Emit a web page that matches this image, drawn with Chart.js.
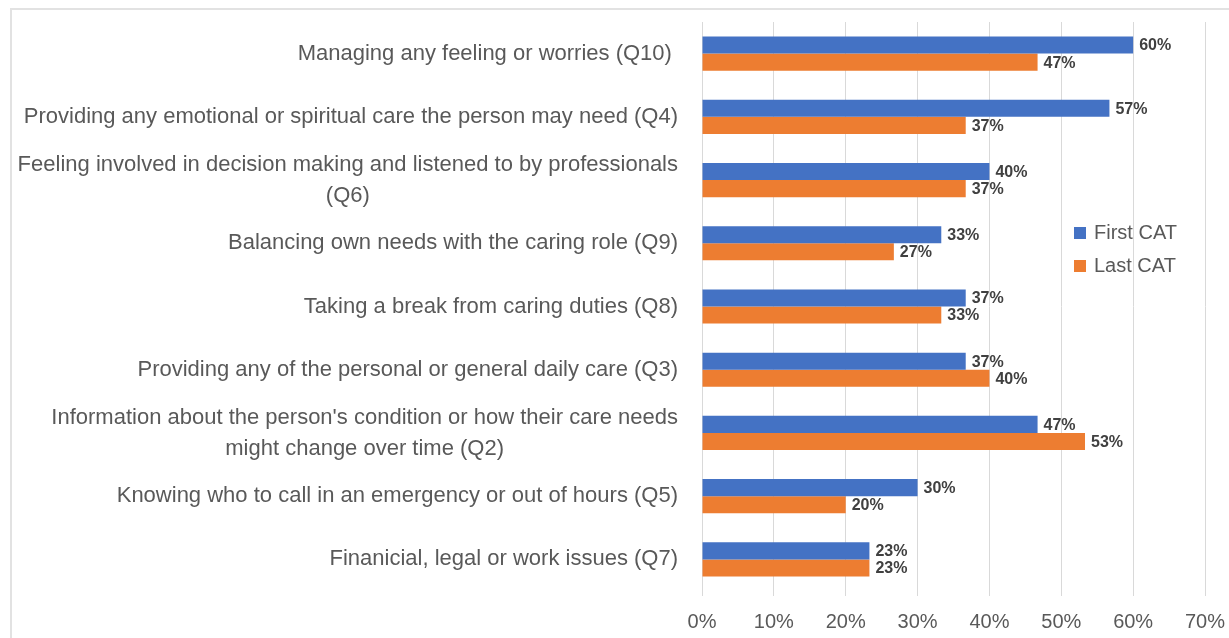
<!DOCTYPE html>
<html>
<head>
<meta charset="utf-8">
<script src="https://cdn.jsdelivr.net/npm/chart.js@4/dist/chart.umd.min.js"></script>
<style>
  html, body { margin: 0; padding: 0; background: #ffffff; }
  #wrap { position: relative; width: 1229px; height: 638px; overflow: hidden; }
  #frame { position: absolute; left: 10px; top: 8px; width: 1300px; height: 700px;
           border-left: 2px solid #e2e2e2; border-top: 2px solid #e2e2e2; }
  canvas { position: absolute; left: 0; top: 0; }
</style>
</head>
<body>
<div id="wrap">
  <div id="frame"></div>
  <canvas id="c" width="1229" height="638"></canvas>
</div>
<script>
const categories = [
  "Managing any feeling or worries (Q10) ",
  "Providing any emotional or spiritual care the person may need (Q4)",
  ["Feeling involved in decision making and listened to by professionals", "(Q6)"],
  "Balancing own needs with the caring role (Q9)",
  "Taking a break from caring duties (Q8)",
  "Providing any of the personal or general daily care (Q3)",
  ["Information about the person's condition or how their care needs", "might change over time (Q2)"],
  "Knowing who to call in an emergency or out of hours (Q5)",
  "Finanicial, legal or work issues (Q7)"
];
const firstCAT = [60, 56.7, 40, 33.3, 36.7, 36.7, 46.7, 30, 23.3];
const lastCAT  = [46.7, 36.7, 36.7, 26.7, 33.3, 40, 53.3, 20, 23.3];
const seriesNames = ["First CAT", "Last CAT"];
const xTicks = [0, 10, 20, 30, 40, 50, 60, 70];

const FONT = "'Liberation Sans', Arial, sans-serif";

const valueLabels = {
  id: 'valueLabels',
  afterDatasetsDraw(chart) {
    const ctx = chart.ctx;
    ctx.save();
    ctx.font = "bold 16px " + FONT;
    ctx.fillStyle = "#404040";
    ctx.textAlign = "left";
    ctx.textBaseline = "middle";
    chart.data.datasets.forEach((ds, i) => {
      const meta = chart.getDatasetMeta(i);
      meta.data.forEach((bar, j) => {
        ctx.fillText(Math.round(ds.data[j]) + "%", bar.x + 6, bar.y + 1);
      });
    });
    ctx.restore();
  }
};

// Category labels: block right-aligned to the axis, lines centred within the block
const categoryLabels = {
  id: 'categoryLabels',
  afterDraw(chart) {
    const ctx = chart.ctx;
    const yScale = chart.scales.y;
    const right = chart.chartArea.left - 24;
    const lineGap = 31;
    ctx.save();
    ctx.font = "22px " + FONT;
    ctx.fillStyle = "#595959";
    ctx.textAlign = "center";
    ctx.textBaseline = "middle";
    chart.data.labels.forEach((lab, i) => {
      const lines = Array.isArray(lab) ? lab : [lab];
      const maxW = Math.max(...lines.map(l => ctx.measureText(l).width));
      const cx = right - maxW / 2;
      const cy = yScale.getPixelForTick(i);
      const y0 = cy - (lines.length - 1) * lineGap / 2;
      lines.forEach((l, k) => ctx.fillText(l, cx, y0 + k * lineGap));
    });
    ctx.restore();
  }
};

const innerLegend = {
  id: 'innerLegend',
  afterDatasetsDraw(chart) {
    const ctx = chart.ctx;
    ctx.save();
    ctx.font = "20px " + FONT;
    ctx.textBaseline = "middle";
    ctx.textAlign = "left";
    chart.data.datasets.forEach((ds, i) => {
      const y = 233 + i * 33;
      ctx.fillStyle = ds.backgroundColor;
      ctx.fillRect(1074, y - 6, 12, 12);
      ctx.fillStyle = "#595959";
      ctx.fillText(ds.label, 1094, y);
    });
    ctx.restore();
  }
};

new Chart(document.getElementById('c'), {
  type: 'bar',
  data: {
    labels: categories,
    datasets: [
      { label: seriesNames[0], data: firstCAT, backgroundColor: '#4472C4' },
      { label: seriesNames[1], data: lastCAT, backgroundColor: '#ED7D31' }
    ]
  },
  options: {
    indexAxis: 'y',
    responsive: false,
    animation: false,
    devicePixelRatio: 1,
    layout: { padding: { left: 0, right: 24, top: 22, bottom: 0 } },
    categoryPercentage: 0.54,
    barPercentage: 1.0,
    plugins: { legend: { display: false }, tooltip: { enabled: false } },
    scales: {
      x: {
        min: 0, max: 70,
        afterBuildTicks(scale) { scale.ticks = xTicks.map(v => ({ value: v })); },
        afterFit(scale) { scale.height = 47; scale.paddingLeft = 0; scale.paddingRight = 0; },
        grid: { color: '#d9d9d9', lineWidth: 1, drawTicks: true, tickLength: 5 },
        border: { display: false },
        ticks: {
          callback: v => v + '%',
          color: '#595959',
          font: { family: FONT, size: 20 },
          padding: 14,
          maxRotation: 0
        }
      },
      y: {
        afterFit(scale) { scale.width = 702; scale.paddingTop = 0; scale.paddingBottom = 0; },
        grid: { display: false, drawTicks: false },
        border: { display: false },
        ticks: { display: false, autoSkip: false }
      }
    }
  },
  plugins: [valueLabels, categoryLabels, innerLegend]
});
</script>
</body>
</html>
